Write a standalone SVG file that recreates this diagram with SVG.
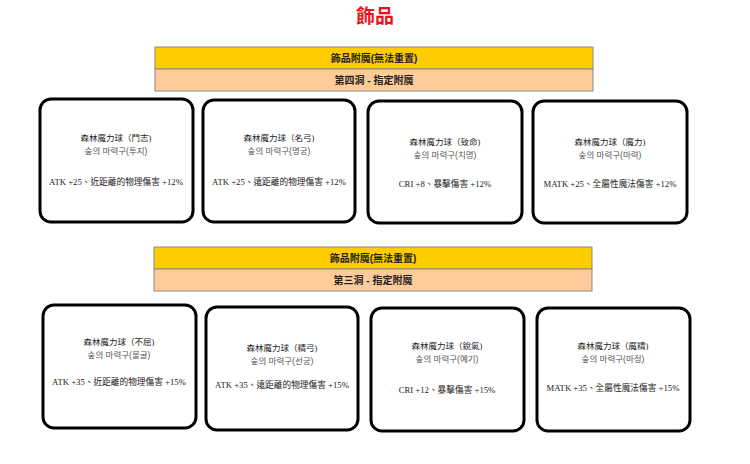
<svg xmlns="http://www.w3.org/2000/svg" width="750" height="464" viewBox="0 0 750 464">
<style>
.ttl{font-family:"Noto Sans CJK TC","Liberation Sans",sans-serif;font-size:19px;font-weight:bold;fill:#e8141c;text-anchor:middle}
.hdr{font-family:"Liberation Sans","Noto Sans CJK TC",sans-serif;font-size:10px;font-weight:bold;fill:#222;text-anchor:middle}
.y{fill:#ffcc00;stroke:#8a8a8a;stroke-width:1}
.p{fill:#ffcc99;stroke:#8a8a8a;stroke-width:1}
.card{fill:#fff;stroke:#000;stroke-width:3}
.t1{font-family:"Liberation Serif","Noto Sans CJK TC",serif;font-size:8.5px;fill:#222;text-anchor:middle}
.t2{font-family:"Liberation Sans","Noto Sans CJK KR",sans-serif;font-size:8.5px;fill:#555;text-anchor:middle}
.t3{font-family:"Liberation Serif","Noto Sans CJK TC",serif;font-size:8.7px;fill:#222;text-anchor:middle}
</style>
<rect width="750" height="464" fill="#fff"/>
<text class="ttl" x="375" y="23">飾品</text>

<g id="header1">
<rect class="y" x="155" y="47" width="438" height="22"/>
<rect class="p" x="155" y="69" width="438" height="22"/>
<text class="hdr" x="374" y="62">飾品附魔(無法重置)</text>
<text class="hdr" x="374" y="84">第四洞 - 指定附魔</text>
</g>

<g id="card1">
<rect class="card" x="40" y="99" width="153" height="123" rx="11"/>
<text class="t1" x="116" y="141">森林魔力球（鬥志)</text>
<text class="t2" x="116" y="154">숲의 마력구(투지)</text>
<text class="t3" x="116" y="185">ATK +25、近距離的物理傷害 +12%</text>
</g>
<g id="card2">
<rect class="card" x="203" y="100" width="152" height="122" rx="11"/>
<text class="t1" x="279" y="141">森林魔力球（名弓)</text>
<text class="t2" x="279" y="154">숲의 마력구(명궁)</text>
<text class="t3" x="279" y="185">ATK +25、遠距離的物理傷害 +12%</text>
</g>
<g id="card3">
<rect class="card" x="368" y="101" width="154" height="122" rx="11"/>
<text class="t1" x="445" y="145">森林魔力球（致命)</text>
<text class="t2" x="445" y="158">숲의 마력구(치명)</text>
<text class="t3" x="445" y="187">CRI +8、暴擊傷害 +12%</text>
</g>
<g id="card4">
<rect class="card" x="533" y="101" width="154" height="122" rx="11"/>
<text class="t1" x="610" y="145">森林魔力球（魔力)</text>
<text class="t2" x="610" y="158">숲의 마력구(마력)</text>
<text class="t3" x="610" y="187">MATK +25、全屬性魔法傷害 +12%</text>
</g>

<g id="header2">
<rect class="y" x="154" y="247" width="438" height="22"/>
<rect class="p" x="154" y="269" width="438" height="22"/>
<text class="hdr" x="373" y="262">飾品附魔(無法重置)</text>
<text class="hdr" x="373" y="284">第三洞 - 指定附魔</text>
</g>

<g id="card5">
<rect class="card" x="43" y="305" width="153" height="123" rx="11"/>
<text class="t1" x="119" y="345">森林魔力球（不屈)</text>
<text class="t2" x="119" y="358">숲의 마력구(불굴)</text>
<text class="t3" x="119" y="385">ATK +35、近距離的物理傷害 +15%</text>
</g>
<g id="card6">
<rect class="card" x="206" y="307" width="152" height="123" rx="11"/>
<text class="t1" x="282" y="351">森林魔力球（精弓)</text>
<text class="t2" x="282" y="364">숲의 마력구(선궁)</text>
<text class="t3" x="282" y="388">ATK +35、遠距離的物理傷害 +15%</text>
</g>
<g id="card7">
<rect class="card" x="371" y="308" width="153" height="123" rx="11"/>
<text class="t1" x="447" y="349">森林魔力球（銳氣)</text>
<text class="t2" x="447" y="362">숲의 마력구(예기)</text>
<text class="t3" x="447" y="393">CRI +12、暴擊傷害 +15%</text>
</g>
<g id="card8">
<rect class="card" x="537" y="308" width="153" height="123" rx="11"/>
<text class="t1" x="613" y="349">森林魔力球（魔精)</text>
<text class="t2" x="613" y="362">숲의 마력구(마정)</text>
<text class="t3" x="613" y="391">MATK +35、全屬性魔法傷害 +15%</text>
</g>
</svg>
